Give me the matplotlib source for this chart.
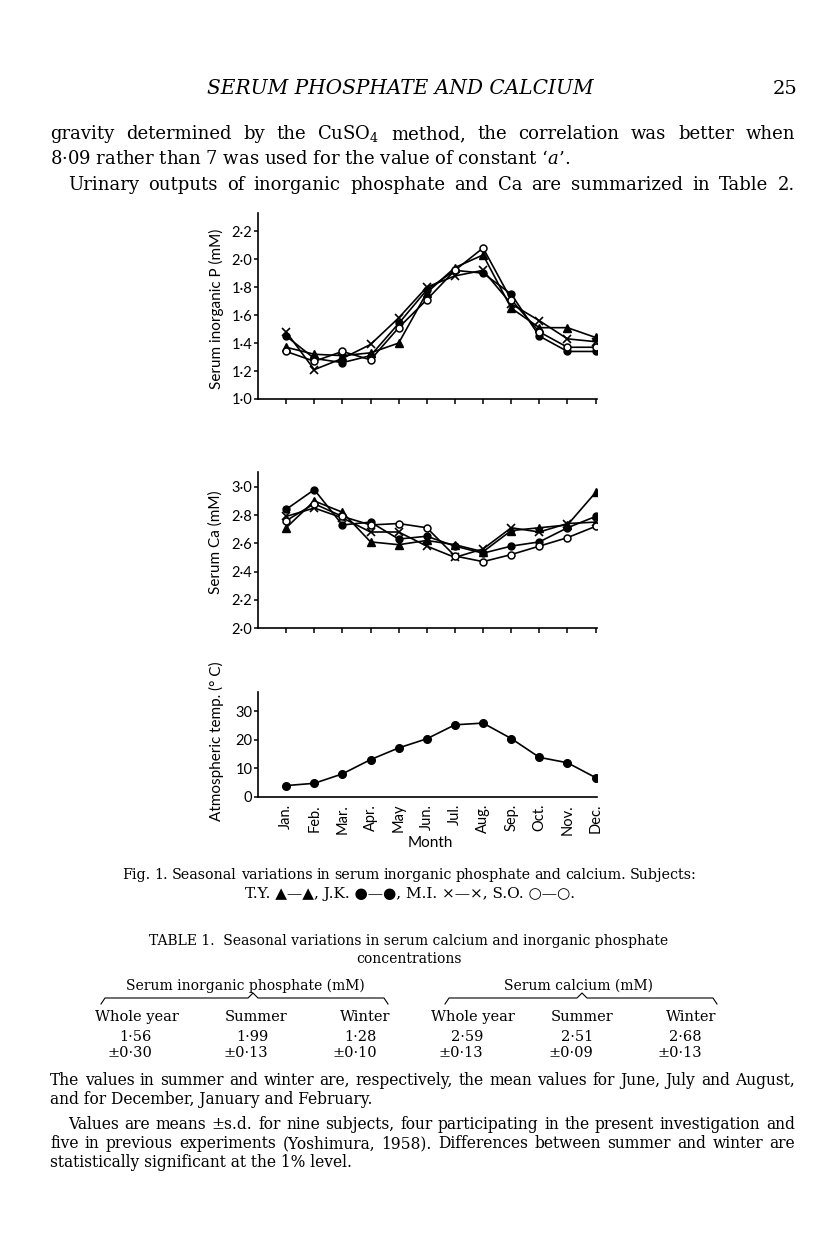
import matplotlib
matplotlib.use('Agg')
import matplotlib.pyplot as plt
from matplotlib.lines import Line2D

# page size in pixels
W, H = 816, 1248

months = ['Jan.', 'Feb.', 'Mar.', 'Apr.', 'May', 'Jun.', 'Jul.', 'Aug.', 'Sep.', 'Oct.', 'Nov.', 'Dec.']

# serum inorganic P (mM)
p_ty = [1.37, 1.32, 1.31, 1.33, 1.40, 1.76, 1.94, 2.03, 1.65, 1.51, 1.51, 1.44]
p_jk = [1.45, 1.29, 1.26, 1.31, 1.54, 1.78, 1.92, 1.90, 1.75, 1.45, 1.34, 1.34]
p_mi = [1.48, 1.21, 1.29, 1.39, 1.58, 1.80, 1.88, 1.92, 1.68, 1.56, 1.43, 1.41]
p_so = [1.34, 1.27, 1.34, 1.28, 1.51, 1.71, 1.92, 2.08, 1.71, 1.48, 1.37, 1.37]

# serum Ca (mM)
ca_ty = [2.71, 2.90, 2.82, 2.61, 2.59, 2.62, 2.59, 2.54, 2.69, 2.71, 2.73, 2.96]
ca_jk = [2.84, 2.98, 2.73, 2.75, 2.63, 2.65, 2.58, 2.53, 2.58, 2.61, 2.71, 2.79]
ca_mi = [2.79, 2.85, 2.78, 2.68, 2.68, 2.58, 2.50, 2.56, 2.71, 2.68, 2.74, 2.75]
ca_so = [2.76, 2.88, 2.79, 2.73, 2.74, 2.71, 2.51, 2.47, 2.52, 2.58, 2.64, 2.72]

# atmospheric temperature (deg C)
temp = [4.0, 4.8, 8.1, 13.1, 17.2, 20.4, 25.3, 25.9, 20.5, 13.9, 12.0, 6.8]

p_ticks = [1.0, 1.2, 1.4, 1.6, 1.8, 2.0, 2.2]
p_ticklabels = ['1·0', '1·2', '1·4', '1·6', '1·8', '2·0', '2·2']
ca_ticks = [2.0, 2.2, 2.4, 2.6, 2.8, 3.0]
ca_ticklabels = ['2·0', '2·2', '2·4', '2·6', '2·8', '3·0']
t_ticks = [0, 10, 20, 30]

# Table 1
groups = ['Serum inorganic phosphate (mM)', 'Serum calcium (mM)']
periods = ['Whole year', 'Summer', 'Winter']
means = [1.56, 1.99, 1.28, 2.59, 2.51, 2.68]
sds = [0.30, 0.13, 0.10, 0.13, 0.09, 0.13]

SANS = 'Lato'
SERIF = ['DejaVu Serif', 'DejaVu Sans']
plt.rcParams['mathtext.fontset'] = 'dejavuserif'

fig = plt.figure(figsize=(W / 100, H / 100), dpi=100)
fig.patch.set_facecolor('white')


def ax_at(left, top, right, bottom):
    return fig.add_axes([left / W, 1 - bottom / H, (right - left) / W, (bottom - top) / H])


def put(x, y, s, size, ha='left', **kw):
    return fig.text(x / W, 1 - y / H, s, fontsize=size, ha=ha, va='baseline',
                    family=kw.pop('family', SERIF), **kw)


def justify(x0, x1, y, s, size, **kw):
    # spread the words of one line between x0 and x1
    r = fig.canvas.get_renderer()
    words = s.split()
    ts = [put(0, y, w, size, **kw) for w in words]
    widths = [t.get_window_extent(r).width for t in ts]
    gap = (x1 - x0 - sum(widths)) / (len(words) - 1)
    x = x0
    for t, w in zip(ts, widths):
        t.set_x(x / W)
        x += w + gap


def style(ax, ylim, ticks, labels, xticks=True):
    ax.set_xlim(-1, 11.05)
    ax.set_ylim(*ylim)
    for s in ['top', 'right']:
        ax.spines[s].set_visible(False)
    for s in ['left', 'bottom']:
        ax.spines[s].set_linewidth(1.2)
    ax.set_yticks(ticks)
    ax.set_yticklabels(labels, fontsize=10.5, family=SANS)
    ax.tick_params(axis='y', direction='out', length=3, width=1.1, pad=1)
    ax.set_xticks(range(12))
    if xticks:
        ax.set_xticklabels([])
        ax.tick_params(axis='x', direction='out', length=3.5, width=1.1)


lw = 1.2
kw_ty = dict(color='black', lw=lw, marker='^', ms=5.5)
kw_jk = dict(color='black', lw=lw, marker='o', ms=5)
kw_mi = dict(color='black', lw=lw, marker='x', ms=5.5, mew=1.2)
kw_so = dict(color='black', lw=lw, marker='o', ms=5, mfc='white', mew=1.1)

x = range(12)

ax1 = ax_at(258, 213, 597, 399)
ax1.plot(x, p_ty, **kw_ty)
ax1.plot(x, p_jk, **kw_jk)
ax1.plot(x, p_mi, **kw_mi)
ax1.plot(x, p_so, **kw_so)
style(ax1, (1.0, 2.33), p_ticks, p_ticklabels)
fig.text(216 / W, 1 - 309 / H, 'Serum inorganic P (mM)', rotation=90, ha='center', va='center',
         fontsize=11, family=SANS)

ax2 = ax_at(258, 472, 597, 628)
ax2.plot(x, ca_ty, **kw_ty)
ax2.plot(x, ca_jk, **kw_jk)
ax2.plot(x, ca_mi, **kw_mi)
ax2.plot(x, ca_so, **kw_so)
style(ax2, (2.0, 3.105), ca_ticks, ca_ticklabels)
fig.text(216 / W, 1 - 542 / H, 'Serum Ca (mM)', rotation=90, ha='center', va='center',
         fontsize=11, family=SANS)

ax3 = ax_at(258, 692, 597, 797)
ax3.plot(x, temp, color='black', lw=lw, marker='o', ms=5.5)
style(ax3, (0, 36.8), t_ticks, [str(t) for t in t_ticks], xticks=False)
ax3.set_xticklabels(months, rotation=90, fontsize=10.5, family=SANS)
ax3.tick_params(axis='x', length=0, pad=5)
fig.text(216 / W, 1 - 741 / H, 'Atmospheric temp. (° C)', rotation=90, ha='center', va='center',
         fontsize=11, family=SANS)
fig.text(430 / W, 1 - 843 / H, 'Month', ha='center', va='center', fontsize=11, family=SANS)

# running head and body text
put(207, 94, 'SERUM PHOSPHATE AND CALCIUM', 14.5, style='italic')
put(797, 94, '25', 14, ha='right')
justify(50, 795, 139, 'gravity determined by the CuSO$_4$ method, the correlation was better when', 13)
put(50, 164, '8·09 rather than 7 was used for the value of constant ‘$a$’.', 13)
justify(68, 795, 190, 'Urinary outputs of inorganic phosphate and Ca are summarized in Table 2.', 13)

# figure caption
justify(122, 697, 879, 'Fig. 1. Seasonal variations in serum inorganic phosphate and calcium. Subjects:', 10.3)
put(410, 898, 'T.Y. ▲—▲, J.K. ●—●, M.I. ×—×, S.O. ○—○.', 11, ha='center')

# table
put(409, 945, 'TABLE 1.  Seasonal variations in serum calcium and inorganic phosphate', 10, ha='center')
put(409, 963, 'concentrations', 10, ha='center')
put(245, 990, groups[0], 10, ha='center')
put(579, 990, groups[1], 10, ha='center')
for x0, xm, x1 in [(101, 253, 388), (445, 582, 717)]:
    fig.add_artist(Line2D([x0 / W, (x0 + 4) / W, (xm - 5) / W, xm / W, (xm + 5) / W, (x1 - 4) / W, x1 / W],
                          [1 - 1004 / H, 1 - 998 / H, 1 - 998 / H, 1 - 993 / H, 1 - 998 / H, 1 - 998 / H, 1 - 1004 / H],
                          color='black', lw=0.8))
head_x = [137, 256, 365, 473, 582, 691]
val_x = [152, 268, 377, 483, 593, 702]
for i in range(6):
    put(head_x[i], 1021, periods[i % 3], 10.5, ha='center')
    put(val_x[i], 1041, f'{means[i]:.2f}'.replace('.', '·'), 10.5, ha='right')
    put(val_x[i], 1057, '±' + f'{sds[i]:.2f}'.replace('.', '·'), 10.5, ha='right')

# notes
justify(50, 795, 1085, 'The values in summer and winter are, respectively, the mean values for June, July and August,', 11.2)
put(50, 1104, 'and for December, January and February.', 11.2)
justify(68, 795, 1129, 'Values are means ±s.d. for nine subjects, four participating in the present investigation and', 11.2)
justify(50, 795, 1148, 'five in previous experiments (Yoshimura, 1958). Differences between summer and winter are', 11.2)
put(50, 1167, 'statistically significant at the 1% level.', 11.2)

fig.savefig('out.png', dpi=100, facecolor='white')
